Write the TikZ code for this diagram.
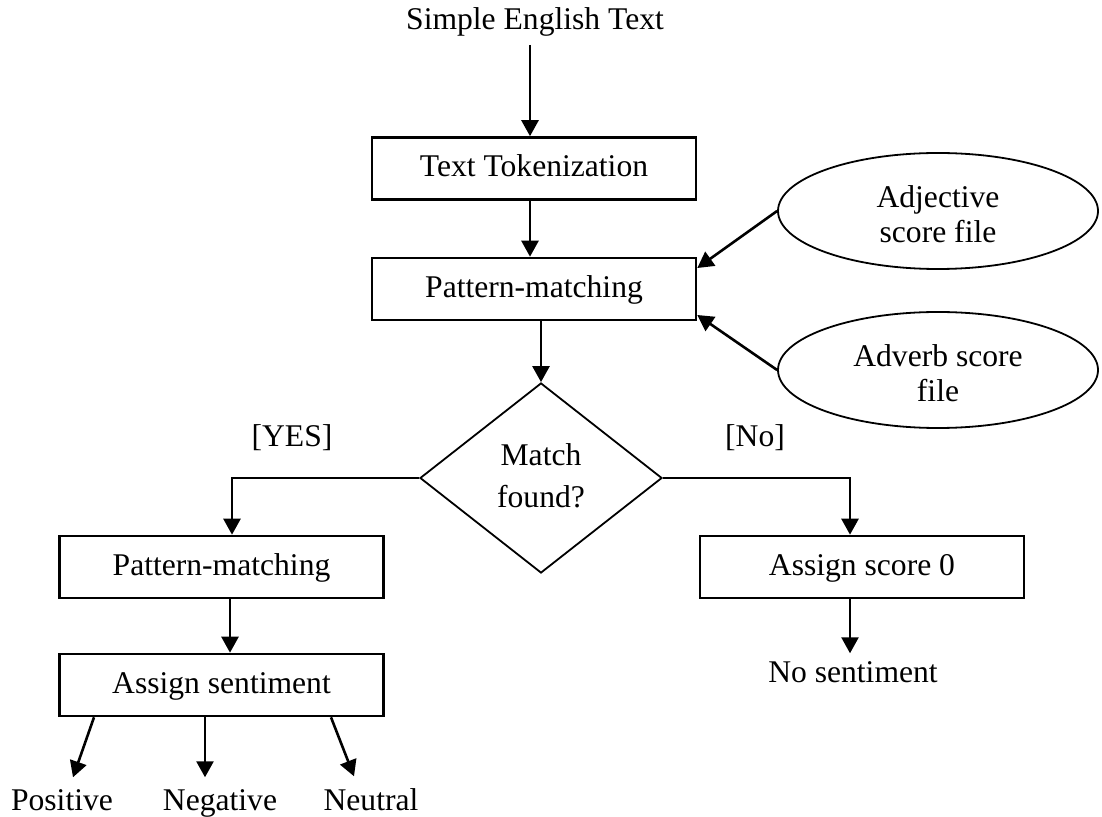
\documentclass[tikz,border=0pt]{standalone}
\usepackage{fontspec}
\setmainfont{Liberation Serif}
\usetikzlibrary{arrows.meta,shapes.geometric}
\begin{document}
\begin{tikzpicture}[x=0.5pt,y=-0.5pt,
  every node/.style={font=\fontsize{15.8pt}{17.5pt}\selectfont},
  proc/.style={draw,line width=1.3pt,minimum width=162pt,minimum height=31pt,inner sep=0pt,text height=11pt,text depth=2.5pt},
  datafile/.style={draw,ellipse,line width=0.9pt,minimum width=160pt,minimum height=58pt,inner sep=0pt,align=center},
  decision/.style={draw,diamond,line width=0.9pt,minimum width=121pt,minimum height=95pt,inner sep=0pt,align=center,font=\fontsize{15.8pt}{21pt}\selectfont},
  lbl/.style={inner sep=0pt,anchor=base},
  arr/.style={line width=1.3pt,-{Triangle[length=8pt,width=8.5pt]}}
]
\useasboundingbox (0,0) rectangle (1102,817);
\node[lbl] (src) at (535,30) {Simple English Text};
\node[proc] (tok) at (534,168.5) {Text Tokenization};
\node[proc] (pm1) at (534,289) {Pattern-matching};
\node[datafile] (adj) at (938,211) {\rule{0pt}{14.5pt}Adjective\\score file};
\node[datafile] (adv) at (938,370) {\rule{0pt}{14.5pt}Adverb score\\file};
\node[decision] (dia) at (541,478) {Match\\found?\rule[-2.8pt]{0pt}{1pt}};
\node[lbl] (yes) at (292,447) {[YES]};
\node[lbl] (no) at (755,447) {[No]};
\node[proc] (pm2) at (221.5,567) {Pattern-matching};
\node[proc] (asg) at (221.5,685) {Assign sentiment};
\node[proc] (sc0) at (862,567) {Assign score 0};
\node[lbl] (nos) at (853,682) {No sentiment};
\node[lbl] (pos) at (62,810) {Positive};
\node[lbl] (neg) at (220,810) {Negative};
\node[lbl] (neu) at (371,810) {Neutral};

\draw[arr] ([xshift=-2.5pt,yshift=-7.5pt]src.base) -- ([xshift=-2pt]tok.north);
\draw[arr] ([xshift=-2pt]tok.south) -- ([xshift=-2pt]pm1.north);
\draw[arr] (adj.west) -- ([yshift=10.5pt]pm1.east);
\draw[arr] (adv.west) -- ([yshift=-13pt]pm1.east);
\draw[arr] (pm1.south -| dia.north) -- (dia.north);
\draw[arr] (dia.west) -| ([xshift=5.25pt]pm2.north);
\draw[arr] (dia.east) -| ([xshift=-6pt]sc0.north);
\draw[arr] ([xshift=4.25pt]pm2.south) -- ([xshift=4.25pt]asg.north);
\draw[arr] ([xshift=-6pt]sc0.south) -- ([xshift=-1.5pt,yshift=3.7pt]nos.north);
\draw[arr] ([xshift=-63.75pt]asg.south) -- ([xshift=5.5pt,yshift=5.7pt]pos.north);
\draw[arr] ([xshift=-8.25pt]asg.south) -- ([xshift=-7.5pt,yshift=5.7pt]neg.north);
\draw[arr] ([xshift=54.75pt]asg.south) -- ([xshift=-8.5pt,yshift=5.7pt]neu.north);
\end{tikzpicture}
\end{document}
